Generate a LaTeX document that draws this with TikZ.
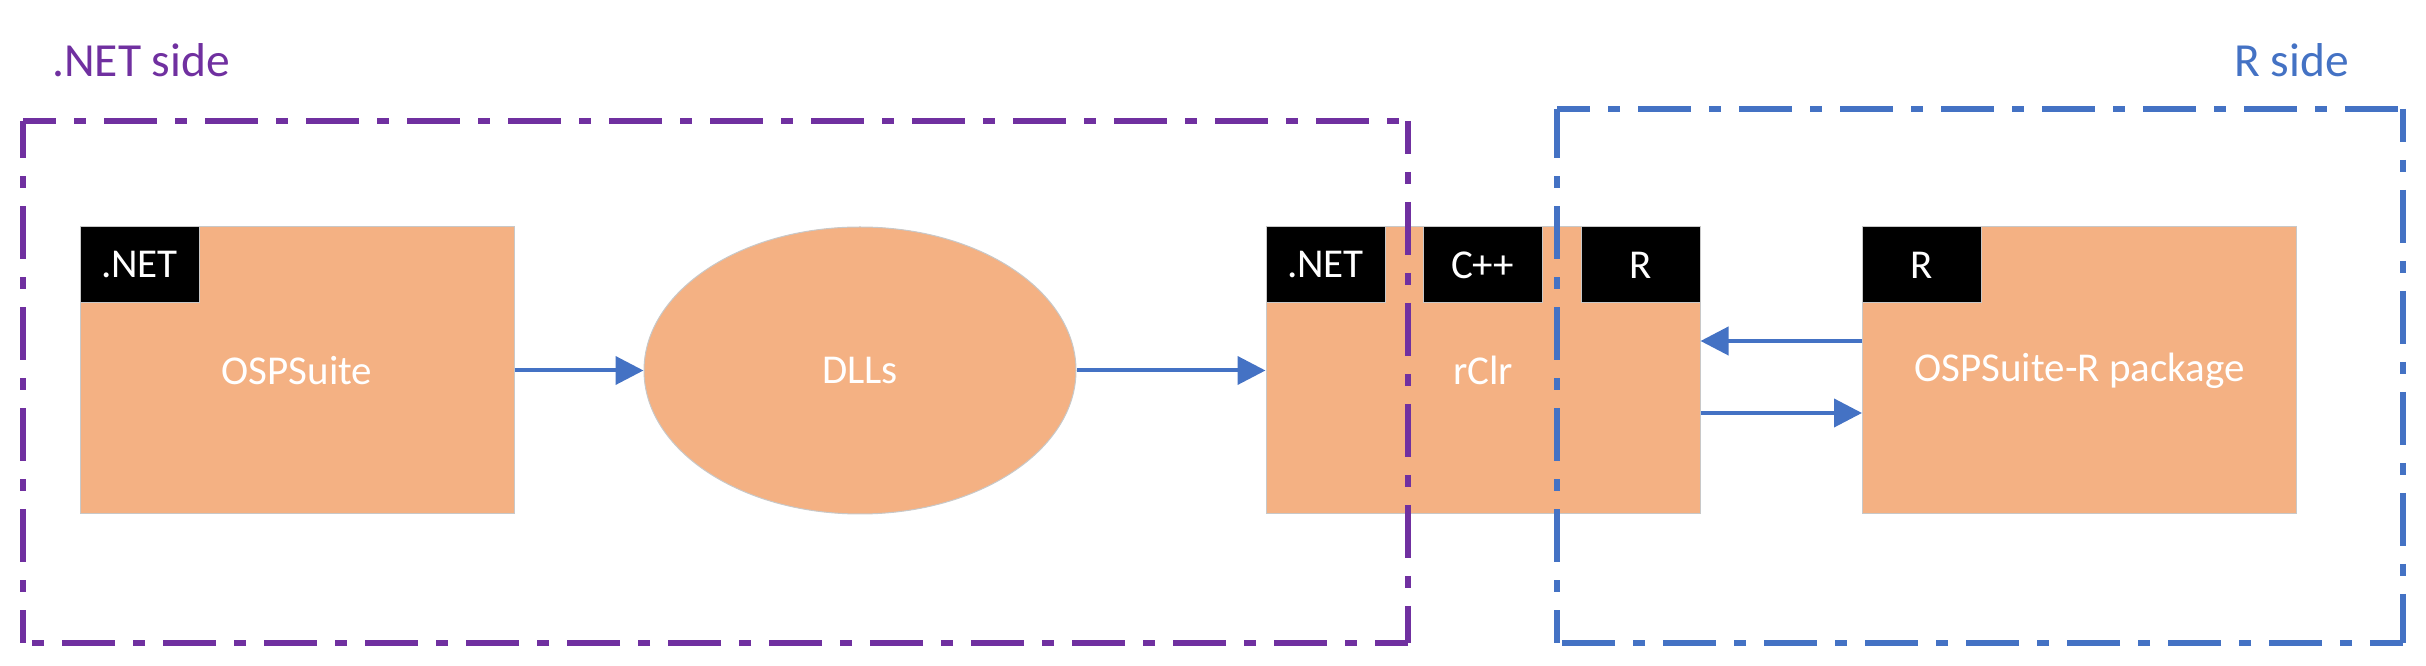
\documentclass[tikz,border=0pt]{standalone}
\usepackage{fontspec}
\setmainfont{Carlito}
\usetikzlibrary{shapes.geometric,arrows.meta}
\definecolor{boxorange}{HTML}{F4B183}
\definecolor{netpurple}{HTML}{7030A0}
\definecolor{rblue}{HTML}{4472C4}
\definecolor{edgegray}{HTML}{C8C8C8}
\begin{document}
\begin{tikzpicture}[x=1pt,y=1pt,
  compbox/.style={rectangle,fill=boxorange,draw=edgegray,line width=1pt,inner sep=0pt,
    minimum width=434pt,minimum height=287pt,text=white,font=\fontsize{41}{49}\selectfont},
  compell/.style={ellipse,fill=boxorange,draw=edgegray,line width=1pt,inner sep=0pt,
    minimum width=432pt,minimum height=287pt,text=white,font=\fontsize{41}{49}\selectfont},
  langtag/.style={rectangle,fill=black,draw=edgegray,line width=1pt,inner sep=0pt,anchor=north west,
    minimum width=119pt,minimum height=76pt,text=white,font=\fontsize{41}{49}\selectfont},
  frameline/.style={line width=5.5pt,dash pattern=on 53pt off 18pt on 12pt off 18pt,dash phase=20pt},
  netframe/.style={frameline,draw=netpurple},
  rframe/.style={frameline,draw=rblue},
  flow/.style={draw=rblue,line width=4pt,-{Triangle[length=28pt,width=28pt]}},
  sidelabel/.style={inner sep=0pt,font=\fontsize{47.5}{57}\selectfont}
]
\useasboundingbox (0,0) rectangle (2426,666);

% components
\node[compbox] (osp) at (297,295.5) {OSPSuite};
\node[compell] (dll) at (860,295.5) {DLLs};
\node[compbox] (rclr) at (1483,295.5) {rClr};
\node[compbox] (ospr) at (2079.5,295.5) {OSPSuite-R package};

% language tags
\node[langtag] (tagosp) at (osp.north west) {.NET};
\node[langtag] (tagnet) at (rclr.north west) {.NET};
\node[langtag] (tagcpp) at ([xshift=157pt]rclr.north west) {C++};
\node[langtag] (tagr) at ([xshift=315pt]rclr.north west) {R};
\node[langtag] (tagospr) at (ospr.north west) {R};

% connectors
\draw[flow] (osp.east) -- (dll.west);
\draw[flow] (dll.east) -- (rclr.west);
\draw[flow] ([yshift=29.5pt]ospr.west) -- ([yshift=29.5pt]rclr.east);
\draw[flow] ([yshift=-42.5pt]rclr.east) -- ([yshift=-42.5pt]ospr.west);

% frames
\coordinate (ntl) at (23,545);
\coordinate (ntr) at (1408,545);
\coordinate (nbr) at (1408,23);
\coordinate (nbl) at (23,23);
\draw[netframe] (ntl) -- (ntr);
\draw[netframe] (ntr) -- (nbr);
\draw[netframe] (nbr) -- (nbl);
\draw[netframe] (nbl) -- (ntl);

\coordinate (rtl) at (1557,557);
\coordinate (rtr) at (2403,557);
\coordinate (rbr) at (2403,23);
\coordinate (rbl) at (1557,23);
\draw[rframe] (rtl) -- (rtr);
\draw[rframe] (rtr) -- (rbr);
\draw[rframe] (rbr) -- (rbl);
\draw[rframe] (rbl) -- (rtl);

% side labels
\node[sidelabel,text=netpurple,anchor=base west] (netside) at (52,589) {.NET side};
\node[sidelabel,text=rblue,anchor=base east] (rside) at (2349,589) {R side};
\end{tikzpicture}
\end{document}
